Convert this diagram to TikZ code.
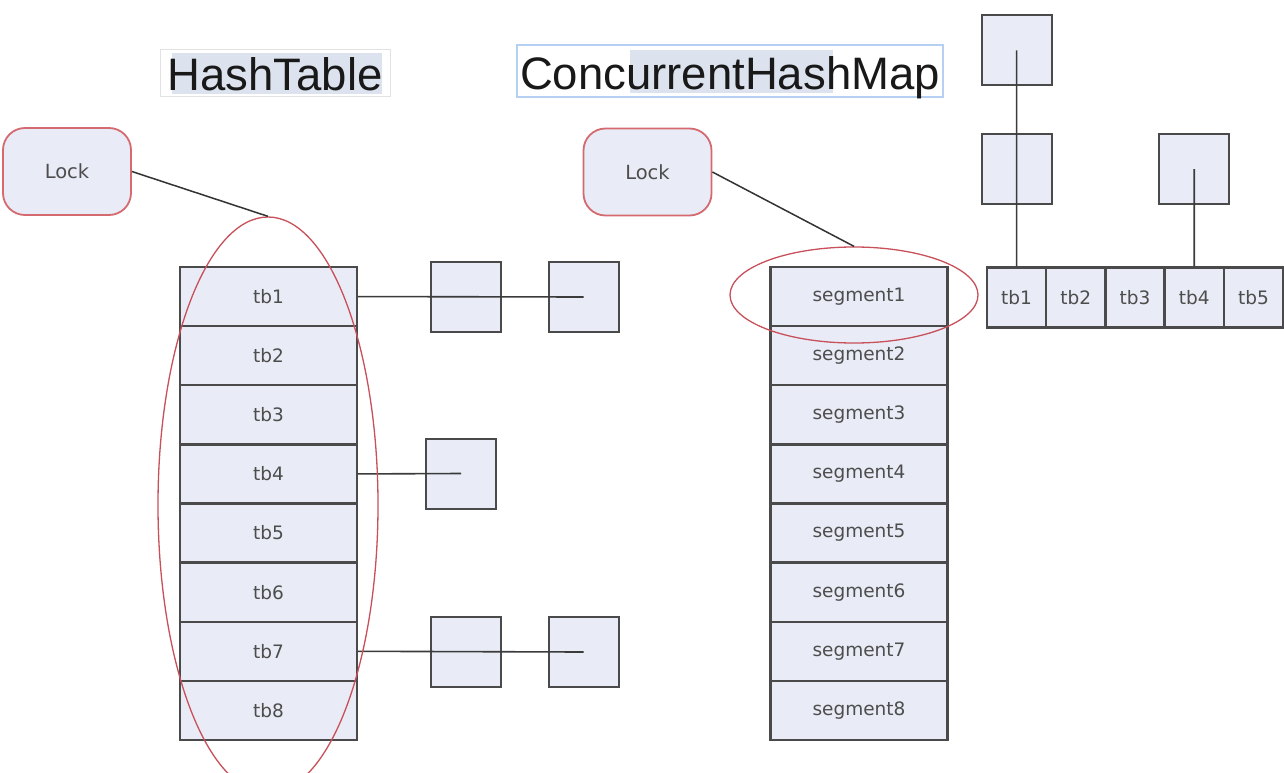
\documentclass[tikz,border=0pt]{standalone}
\usepackage{fontspec}
\setmainfont{Liberation Sans}
\newfontfamily\cellfont{DejaVu Sans}
\usetikzlibrary{shapes.geometric}
\definecolor{cellfill}{HTML}{E9ECF6}
\definecolor{celldraw}{HTML}{4A4A4A}
\definecolor{celltext}{HTML}{4D4D4D}
\definecolor{lockred}{HTML}{D46A70}
\definecolor{ellred}{HTML}{C8505A}
\definecolor{hilite}{HTML}{DCE3EE}
\definecolor{glow}{HTML}{B5D0F2}
\definecolor{edgegray}{HTML}{E2E2E2}
\begin{document}
\begin{tikzpicture}[x=1pt,y=-1pt,
  cell/.style={draw=celldraw, fill=cellfill, line width=2.2pt, inner sep=0pt,
    minimum width=177pt, minimum height=59pt,
    font=\cellfont\fontsize{18.5}{22}\selectfont, text=celltext},
  acell/.style={cell, minimum width=59pt, minimum height=60pt},
  sbox/.style={draw=celldraw, fill=cellfill, line width=2pt, inner sep=0pt,
    minimum width=70pt, minimum height=70pt},
  lockbox/.style={draw=lockred, fill=cellfill, line width=1.8pt, rounded corners=22pt,
    inner sep=0pt, minimum width=128pt, minimum height=87pt,
    font=\cellfont\fontsize{19.5}{23}\selectfont, text=celltext},
  ring/.style={draw=ellred, ellipse, line width=1.3pt, inner sep=0pt},
  link/.style={draw=celldraw!80!black, line width=1.6pt},
  locklink/.style={draw=black!80, line width=1.5pt},
  title/.style={font=\fontsize{45.5}{52}\selectfont, text=black!90, inner sep=0pt, anchor=base}
]
\useasboundingbox (0,0) rectangle (1284,773);
\fill[white] (0,0) rectangle (1284,773);

% titles
\fill[white] (160,50) rectangle (390,97);
\draw[edgegray, line width=1pt] (160,50) rectangle (390,97);
\fill[hilite] (172,53) rectangle (382,94);
\node[title] (ht) at (275,91) {HashTable};

\fill[white] (517,45) rectangle (943,97);
\draw[glow, line width=2pt] (517,45) rectangle (943,97);
\fill[hilite] (630,50) rectangle (833,93);
\node[title] (chm) at (730,90) {ConcurrentHashMap};

% HashTable column
\foreach \i in {1,...,8}
  \node[cell] (h\i) at (268.5,{267+59.125*(\i-0.5)}) {tb\i};

% ConcurrentHashMap column
\foreach \i in {1,...,8}
  \node[cell] (s\i) at (859,{267+59.125*(\i-0.5)}) {segment\i};

% segment array (top right)
\foreach \i in {1,...,5}
  \node[acell] (a\i) at ({987+59.2*(\i-0.5)},297.5) {tb\i};

% chain boxes
\node[sbox] (b11) at (465.5,297) {};
\node[sbox] (b12) at (583.5,297) {};
\node[sbox] (b41) at (461,473.5) {};
\node[sbox] (b71) at (465.5,652) {};
\node[sbox] (b72) at (583.5,652) {};
\node[sbox] (t1) at (1016.6,50.5) {};
\node[sbox] (t2) at (1016.6,169) {};
\node[sbox] (t4) at (1194.2,169) {};

% chain links
\draw[link] (h1.east) -- (b12.center);
\draw[link] (h4.east) -- (b41.center);
\draw[link] (h7.east) -- (b72.center);
\draw[link] (a1.north) -- (t1.center);
\draw[link] (a4.north) -- (t4.center);

% locks
\node[lockbox] (lock1) at (67,171.5) {Lock};
\node[lockbox] (lock2) at (647.5,172) {Lock};

% lock scopes
\node[ring, minimum width=220pt, minimum height=576pt] (e1) at (268,505) {};
\node[ring, minimum width=248pt, minimum height=96pt] (e2) at (854,295) {};

\draw[locklink] (lock1.east) -- (e1.north);
\draw[locklink] (lock2.east) -- (e2.north);
\end{tikzpicture}
\end{document}
